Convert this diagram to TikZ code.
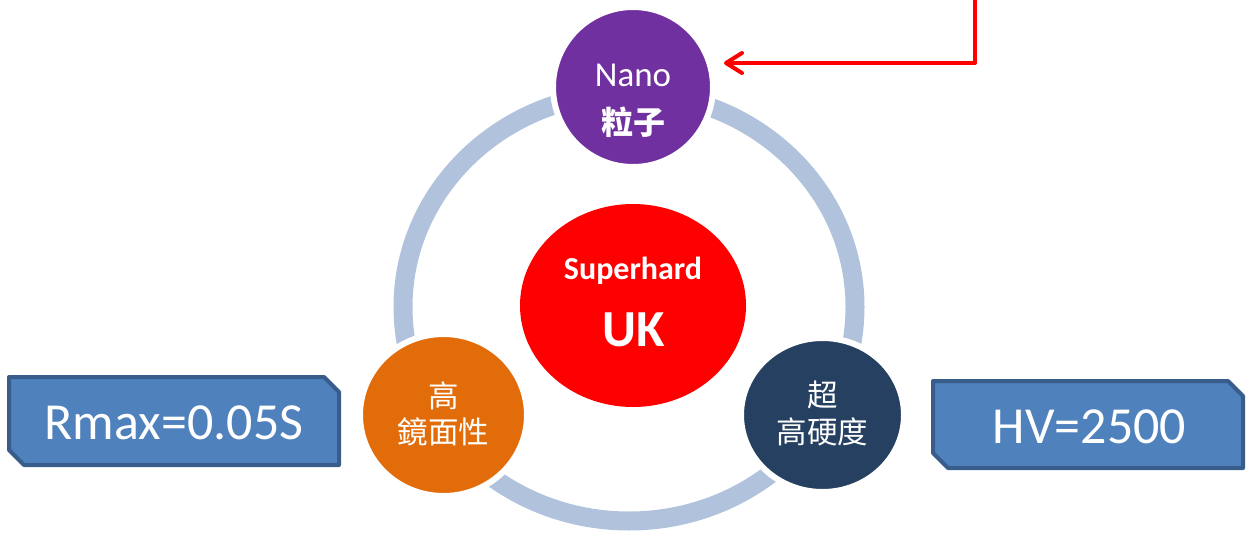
\documentclass[tikz,border=0pt]{standalone}
\usepackage{fontspec}
\setmainfont{Carlito}
\newfontfamily\cjk{Noto Sans CJK TC}
\usetikzlibrary{arrows.meta,shapes.geometric}
\definecolor{ringc}{RGB}{177,195,220}
\definecolor{nanoc}{RGB}{112,48,160}
\definecolor{orangec}{RGB}{227,108,10}
\definecolor{navyc}{RGB}{38,64,97}
\definecolor{boxfill}{RGB}{79,129,189}
\definecolor{boxline}{RGB}{56,93,138}
\begin{document}
\begin{tikzpicture}[x=1pt,y=-1pt,
  bubble/.style={ellipse,draw=white,line width=6pt,inner sep=0pt},
  lbl/.style={text=white,anchor=base,inner sep=0pt},
  boxshape/.style={fill=boxfill,draw=boxline,line width=4pt,line join=round},
  ringline/.style={draw=ringc,line width=19pt},
  redarrow/.style={draw=red,line width=4pt,line join=round,line cap=round,
    -{Straight Barb[length=16pt,width=20pt,round]}}]
\useasboundingbox (0,0) rectangle (1247,533);

% ring
\coordinate (ringcenter) at (629,307);
\draw[ringline] (ringcenter) ellipse [x radius=226pt, y radius=214pt];

% bubbles
\node[bubble,fill=nanoc,minimum width=160pt,minimum height=160pt] (nano) at (633,87) {};
\node[bubble,fill=orangec,minimum width=167pt,minimum height=162pt] (mirror) at (443.5,415) {};
\node[bubble,fill=navyc,minimum width=163pt,minimum height=154pt] (hard) at (822.5,415) {};
\node[ellipse,fill=red,inner sep=0pt,minimum width=226pt,minimum height=203pt] (core) at (633,305.5) {};

% bubble texts
\node[lbl,font=\fontsize{35}{40}\selectfont] (nanoA) at (633,86) {Nano};
\node[lbl,font=\fontsize{32}{36}\selectfont\cjk\bfseries] (nanoB) at (633,134) {粒子};
\node[lbl,font=\fontsize{32}{36}\selectfont\bfseries] (coreA) at (633,279) {Superhard};
\node[lbl,font=\fontsize{52}{56}\selectfont\bfseries] (coreB) at (633.5,346) {UK};
\node[lbl,font=\fontsize{30.5}{34}\selectfont\cjk] (mirrorA) at (443.5,407) {高};
\node[lbl,font=\fontsize{30.5}{34}\selectfont\cjk] (mirrorB) at (443.5,443) {鏡面性};
\node[lbl,font=\fontsize{30.5}{34}\selectfont\cjk] (hardA) at (822.5,406) {超};
\node[lbl,font=\fontsize{30.5}{34}\selectfont\cjk] (hardB) at (822.5,443) {高硬度};

% boxes
\draw[boxshape] (9,377) -- (324,377) -- (339,392) -- (339,465) -- (24,465) -- (9,450) -- cycle;
\node[lbl,font=\fontsize{52}{56}\selectfont] (boxL) at (174,439) {Rmax=0.05S};
\draw[boxshape] (933,381) -- (1228,381) -- (1243,396) -- (1243,468) -- (948,468) -- (933,453) -- cycle;
\node[lbl,font=\fontsize{52}{56}\selectfont] (boxR) at (1089.5,443) {HV=2500};

% arrow
\coordinate (arrowtop) at (975,-4);
\coordinate (arrowend) at (724,63);
\draw[redarrow] (arrowtop) |- (arrowend);
\end{tikzpicture}
\end{document}
